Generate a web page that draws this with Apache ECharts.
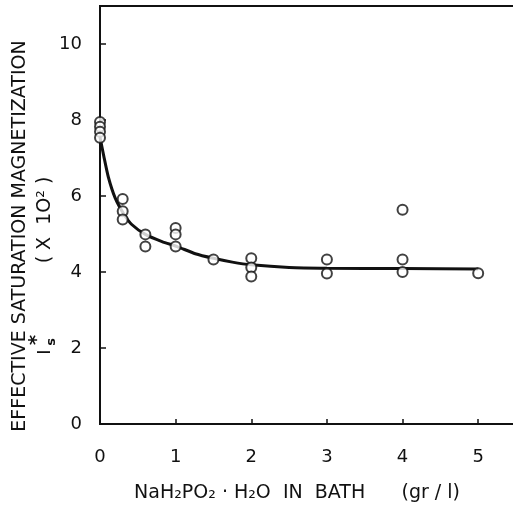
<!DOCTYPE html>
<html>
<head>
<meta charset="utf-8">
<script src="https://cdn.jsdelivr.net/npm/echarts@6/dist/echarts.min.js"></script>
<style>
  html, body { margin: 0; padding: 0; background: #fff; }
  #chart { width: 513px; height: 505px; }
</style>
</head>
<body>
<div id="chart"></div>
<script>
// measured points (NaH2PO2 g/l, Is* x10^2)
const pointX = [0, 0, 0, 0, 0.3, 0.3, 0.3, 0.6, 0.6, 1, 1, 1, 1.5, 2, 2, 2, 3, 3, 4, 4, 4, 5]
const pointY = [7.95, 7.82, 7.69, 7.53, 5.92, 5.6, 5.38, 4.99, 4.67, 5.16, 4.99, 4.67, 4.33, 4.36, 4.12, 3.88, 4.33, 3.96, 5.64, 4.33, 4.0, 3.97]

// hand-drawn fit curve
const curveX = [0, 0.05, 0.11, 0.2, 0.31, 0.42, 0.6, 0.82, 1.02, 1.26, 1.5, 1.75, 2.0, 2.5, 3, 4, 5]
const curveY = [7.55, 7.05, 6.5, 5.95, 5.54, 5.25, 4.99, 4.8, 4.67, 4.48, 4.36, 4.26, 4.19, 4.12, 4.1, 4.09, 4.08]

const xTicks = [0, 1, 2, 3, 4, 5]
const yTicks = [0, 2, 4, 6, 8, 10]

const font = 'DejaVu Sans'
const ink = '#111'

const chart = echarts.init(document.getElementById('chart'))

chart.setOption({
  animation: false,
  grid: {
    left: 100,
    right: -3,
    top: 6,
    bottom: 81,
    outerBoundsMode: 'none',
    show: true,
    borderColor: ink,
    borderWidth: 2,
    backgroundColor: 'transparent'
  },
  xAxis: {
    type: 'value',
    min: 0,
    max: 5.5,
    interval: 1,
    splitLine: { show: false },
    axisLine: { lineStyle: { color: ink, width: 2 } },
    axisTick: { inside: true, length: 5, lineStyle: { color: ink, width: 1.5 } },
    axisLabel: {
      showMaxLabel: false,
      margin: 24,
      color: ink,
      fontFamily: font,
      fontSize: 18,
      formatter: v => xTicks.includes(v) ? String(v) : ''
    },
    name: 'NaH₂PO₂ · H₂O  IN  BATH      (gr / l)',
    nameLocation: 'middle',
    nameGap: 60,
    nameTextStyle: { color: ink, fontFamily: font, fontSize: 19, padding: [0, 0, 0, -22] }
  },
  yAxis: {
    type: 'value',
    min: 0,
    max: 11,
    interval: 2,
    splitLine: { show: false },
    axisLine: { lineStyle: { color: ink, width: 2 } },
    axisTick: { inside: true, length: 6, lineStyle: { color: ink, width: 1.5 } },
    axisLabel: {
      showMaxLabel: false,
      margin: 18,
      color: ink,
      fontFamily: font,
      fontSize: 18,
      formatter: v => yTicks.includes(v) ? String(v) : ''
    }
  },
  graphic: [
    {
      type: 'text', x: 20, y: 236, rotation: Math.PI / 2,
      style: { text: 'EFFECTIVE SATURATION MAGNETIZATION', fill: ink, font: '19px "DejaVu Sans"', align: 'center', verticalAlign: 'middle' }
    },
    {
      type: 'text', x: 45, y: 220, rotation: Math.PI / 2,
      style: { text: '( X  1O² )', fill: ink, font: '19px "DejaVu Sans"', align: 'center', verticalAlign: 'middle' }
    },
    {
      type: 'text', x: 45, y: 352, rotation: Math.PI / 2,
      style: { text: 'I', fill: ink, font: '18px "DejaVu Sans"', align: 'center', verticalAlign: 'middle' }
    },
    {
      type: 'text', x: 52, y: 342, rotation: Math.PI / 2,
      style: { text: 's', fill: ink, font: 'bold 13px "DejaVu Sans"', align: 'center', verticalAlign: 'middle' }
    },
    {
      type: 'text', x: 37, y: 340, rotation: Math.PI / 2,
      style: { text: '*', fill: ink, font: 'bold 20px "DejaVu Sans"', align: 'center', verticalAlign: 'middle' }
    }
  ],
  series: [
    {
      type: 'line',
      data: curveX.map((x, i) => [x, curveY[i]]),
      smooth: 0.2,
      symbol: 'none',
      lineStyle: { color: ink, width: 3 },
      z: 2
    },
    {
      type: 'scatter',
      data: pointX.map((x, i) => [x, pointY[i]]),
      symbol: 'circle',
      symbolSize: 10,
      clip: false,
      itemStyle: { color: '#fff', borderColor: ink, borderWidth: 2 },
      z: 3
    }
  ]
})
</script>
</body>
</html>
